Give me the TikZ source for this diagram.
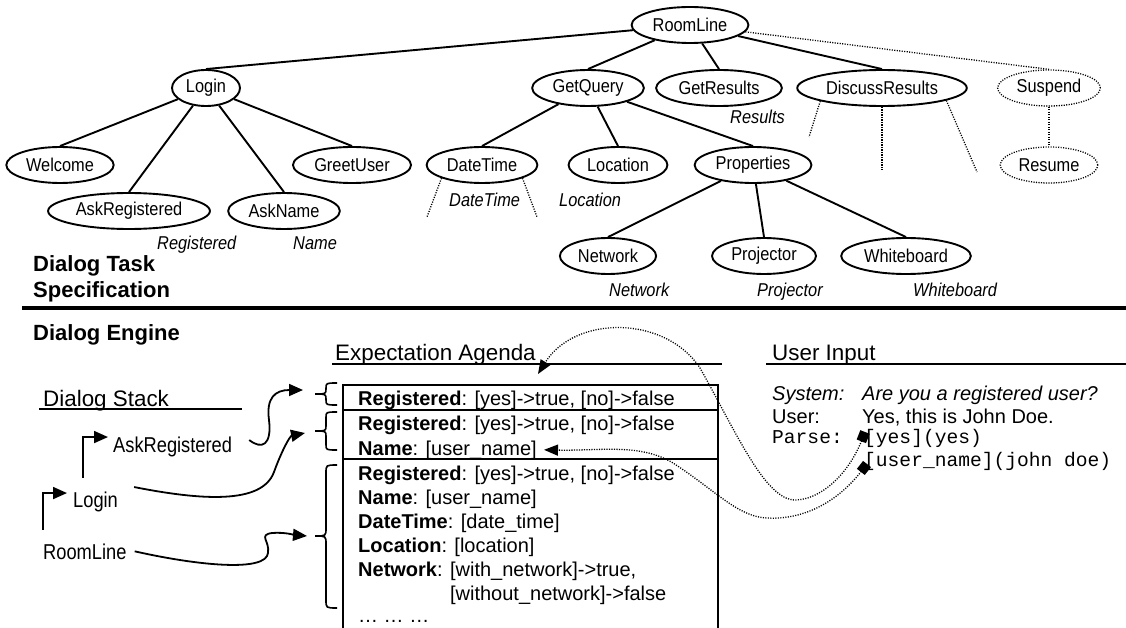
\documentclass[tikz,border=0pt]{standalone}
\usepackage{fontspec}
\setmainfont{Liberation Sans}
\setmonofont{Liberation Mono}
\newfontfamily\narrowfont{Liberation Sans}[FakeStretch=0.88]
\newfontfamily\stackfont{Liberation Sans}[FakeStretch=0.85]
\usetikzlibrary{shapes.geometric,arrows.meta}

\newcommand{\regline}{\textbf{Registered}: [yes]->true, [no]->false}
% curly brace on the left of the agenda: top, tip, bottom, curl
\newcommand{\agbrace}[4]{\draw[bracestroke] (337,#1) .. controls (326,#1) .. (326,#1+#4) -- (326,#2-#4) .. controls (326,#2) .. (315,#2) .. controls (326,#2) .. (326,#2+#4) -- (326,#3-#4) .. controls (326,#3) .. (337,#3);}

\tikzset{
  task/.style={ellipse, draw, line width=1.9pt, inner xsep=4pt, inner ysep=0pt, minimum height=36pt, font=\narrowfont\fontsize{18.6}{22}\selectfont},
  optional/.style={task, line width=1.3pt, dash pattern=on 1.1pt off 1.4pt},
  slot/.style={anchor=base west, inner sep=0pt, font=\narrowfont\fontsize{18.6}{22}\selectfont\itshape},
  treeline/.style={line width=1.9pt},
  optline/.style={line width=1.3pt, dash pattern=on 1.1pt off 1.4pt},
  bigtitle/.style={anchor=base west, inner sep=0pt, font=\fontsize{22}{26}\selectfont\bfseries},
  heading/.style={anchor=base west, inner sep=0pt, font=\fontsize{22.4}{26}\selectfont},
  stackitem/.style={anchor=base west, inner sep=0pt, font=\stackfont\fontsize{21.5}{25}\selectfont},
  agline/.style={anchor=base west, inner sep=0pt, font=\fontsize{20}{24}\selectfont},
  parseline/.style={anchor=base west, inner sep=0pt, font=\fontsize{19.6}{24}\ttfamily},
  stackarrow/.style={line width=1.8pt, -{Triangle[length=14pt,width=12pt]}},
  parsearrow/.style={optline, {Square[length=10pt,width=10pt]}-{Triangle[length=14pt,width=11pt]}},
  boxline/.style={line width=1.5pt},
  bracestroke/.style={line width=1.6pt},
}

\begin{document}
\begin{tikzpicture}[x=1pt,y=-1pt]
  \useasboundingbox (0,0) rectangle (1126,628);

  % dialog task tree
  \node[task] (roomline) at (690,25) {RoomLine};
  \node[task] (login) at (206,88) {Login};
  \node[task] (getquery) at (588,88) {GetQuery};
  \node[task] (getresults) at (719,88) {GetResults};
  \node[task] (discuss) at (882,88) {DiscussResults};
  \node[optional] (suspend) at (1049,88) {Suspend};
  \node[task] (welcome) at (60,165) {Welcome};
  \node[task] (greet) at (352,165) {GreetUser};
  \node[task] (datetime) at (482,165) {DateTime};
  \node[task] (location) at (618,165) {Location};
  \node[task] (properties) at (753,165) {Properties};
  \node[optional] (resume) at (1049,165) {Resume};
  \node[task] (askreg) at (129,211) {AskRegistered};
  \node[task] (askname) at (284,211) {AskName};
  \node[task] (network) at (608,256) {Network};
  \node[task] (projector) at (764,256) {Projector};
  \node[task] (whiteboard) at (906,256) {Whiteboard};

  \foreach \kid in {login,getquery,getresults,discuss}
    \draw[treeline] (roomline) -- (\kid.north);
  \foreach \kid in {welcome,askreg,askname,greet}
    \draw[treeline] (login) -- (\kid.north);
  \foreach \kid in {datetime,location,properties}
    \draw[treeline] (getquery) -- (\kid.north);
  \foreach \kid in {network,projector,whiteboard}
    \draw[treeline] (properties) -- (\kid.north);
  \draw[optline] (roomline) -- (suspend.north);
  \draw[optline] (suspend) -- (resume);
  \draw[optline] (datetime.198) -- (427,217);
  \draw[optline] (datetime.-18) -- (537,217);
  \draw[optline] (discuss.192) -- (809,137);
  \draw[optline] (discuss.south) -- (882,170);
  \draw[optline] (discuss.-11) -- (977,172);

  \node[slot] (slotreg) at (157,250) {Registered};
  \node[slot] (slotname) at (293,250) {Name};
  \node[slot] (slotres) at (730,124) {Results};
  \node[slot] (slotdt) at (449,207) {DateTime};
  \node[slot] (slotloc) at (559,207) {Location};
  \node[slot] (slotnet) at (609,296) {Network};
  \node[slot] (slotproj) at (757,296) {Projector};
  \node[slot] (slotwb) at (913,296) {Whiteboard};

  \node[bigtitle, anchor=north west, align=left] (tasktitle) at (33,255) {Dialog Task\\Specification};
  \draw[line width=4pt] (22,308) -- (1126,308);
  \node[bigtitle] (enginetitle) at (33,340) {Dialog Engine};

  % dialog engine
  \node[heading] (agenda) at (335,360) {Expectation Agenda};
  \draw[line width=1.8pt] (332,364) -- (722,364);
  \node[heading] (input) at (772,360) {User Input};
  \draw[line width=1.8pt] (766,364) -- (1126,364);
  \node[heading] (stack) at (43,406) {Dialog Stack};
  \draw[line width=1.8pt] (39,409) -- (242,409);

  \node[stackitem] (stask) at (113,452) {AskRegistered};
  \node[stackitem] (stlogin) at (73,507) {Login};
  \node[stackitem] (stroom) at (43,559) {RoomLine};
  \draw[stackarrow] ([yshift=13.3pt]stroom.north west) |- ([xshift=-6pt,yshift=8.4pt]stlogin.west);
  \draw[stackarrow] ([xshift=10pt,yshift=13.3pt]stlogin.north west) |- ([xshift=-5pt,yshift=9.4pt]stask.west);

  \draw[boxline] (343,628) |- (718,385) -- (718,628);
  \draw[line width=2.4pt] (343,410) -- (718,410);
  \draw[boxline] (343,459) -- (718,459);
  \agbrace{383}{394}{405}{5.5}
  \agbrace{412}{431}{450}{5.5}
  \agbrace{465}{536}{608}{8}
  \coordinate (br1) at (303,390);
  \coordinate (br2) at (305,433);
  \coordinate (br3) at (307,536);

  \node[agline] (ag1) at (358,405) {\regline};
  \node[agline] (ag2a) at (358,430) {\regline};
  \node[agline] (ag2b) at (358,455) {\textbf{Name}: [user\_name]};
  \node[agline] (ag3a) at (358,480) {\regline};
  \node[agline] (ag3b) at (358,504) {\textbf{Name}: [user\_name]};
  \node[agline] (ag3c) at (358,528.5) {\textbf{DateTime}: [date\_time]};
  \node[agline] (ag3d) at (358,552.5) {\textbf{Location}: [location]};
  \node[agline] (ag3e) at (358,576.5) {\textbf{Network}: [with\_network]->true,};
  \node[agline] (ag3f) at (358,600.5) {\phantom{\textbf{Network}: }[without\_network]->false};
  \node[agline] (ag3g) at (358,622) {… … …};

  \draw[stackarrow] ([shift={(17pt,6.4pt)}]stask.east) .. controls (262,450) and (272,445) .. (269,420) .. controls (266,398) and (275,390) .. (br1);
  \draw[stackarrow] ([shift={(16pt,14.4pt)}]stlogin.east) .. controls (200,500) and (262,505) .. (274,472) .. controls (282,450) and (290,436) .. (br2);
  \draw[stackarrow] ([xshift=8pt]stroom.east) .. controls (200,566) and (266,572) .. (268,553) .. controls (270,541) and (258,535) .. (272,533) .. controls (285,532) and (295,535) .. (br3);

  \node[agline] (sys) at (772,400) {\itshape System:};
  \node[agline] (sysq) at (862,400) {\itshape Are you a registered user?};
  \node[agline] (usr) at (772,423) {User:};
  \node[agline] (usra) at (862,423) {Yes, this is John Doe.};
  \node[parseline] (parse) at (772,443) {Parse:};
  \node[parseline] (pyes) at (864,443) {[yes](yes)};
  \node[parseline] (pname) at (864,466) {[user\_name](john doe)};

  \coordinate (sq1) at (865,432);
  \coordinate (sq2) at (867,464);
  \coordinate (tip1) at (538,374);
  \draw[parsearrow] (sq1) .. controls (848,475) and (820,500) .. (795,500) .. controls (765,500) and (735,430) .. (700,368) .. controls (665,315) and (575,315) .. (tip1);
  \draw[parsearrow] (sq2) .. controls (835,505) and (800,520) .. (767,518) .. controls (738,517) and (715,490) .. (673,463) .. controls (640,443) and (600,451) .. ([xshift=7pt]ag2b.east);
\end{tikzpicture}
\end{document}
